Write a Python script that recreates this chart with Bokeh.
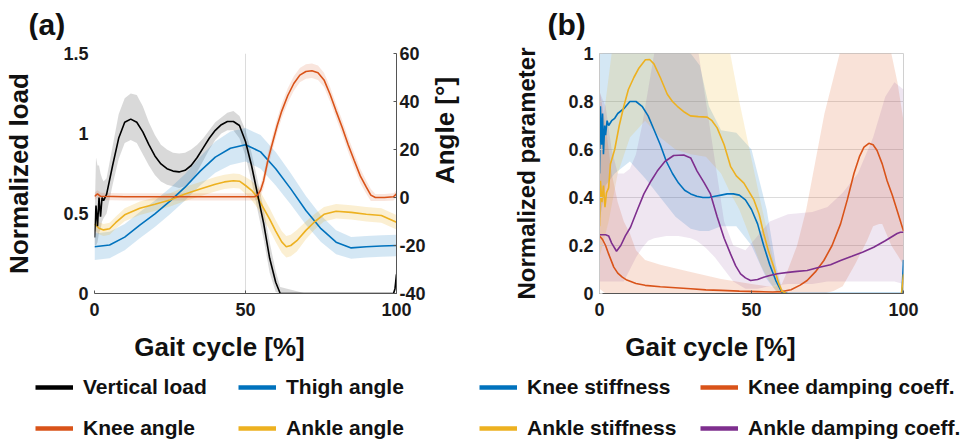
import math
from bokeh.plotting import figure
from bokeh.models import (Range1d, LinearAxis, FixedTicker, Legend, LegendItem, Label,
                          NumeralTickFormatter)
from bokeh.layouts import row, column
from bokeh.embed import file_html
from bokeh.resources import INLINE

FONT = "Liberation Sans"
BLACK = "#000000"
BLUE = "#0072BD"
RED = "#D95319"
YEL = "#EDB120"
PUR = "#7E2F8E"

# ---------------- Panel (a) data ----------------
load_x = [0, 0.5, 1, 1.5, 2, 2.5, 3, 4, 6, 8, 10, 12, 14, 16, 18, 20, 22, 24, 26, 28, 30, 32, 34, 36,
          38, 40, 42, 44, 46, 48, 50, 52, 54, 56, 58, 60, 61.5, 70, 80, 90, 99, 99.5, 100]
load_mean = [0.35, 0.55, 0.42, 0.6, 0.48, 0.6, 0.58, 0.62, 0.8, 0.97, 1.07, 1.09, 1.07, 1.01, 0.93, 0.86,
             0.81, 0.78, 0.765, 0.76, 0.77, 0.8, 0.85, 0.91, 0.97, 1.02, 1.055, 1.075, 1.075, 1.05, 0.95,
             0.8, 0.62, 0.44, 0.22, 0.07, 0.0, 0.0, 0.0, 0.0, 0.0, 0.03, 0.12]
load_upper = [0.45, 0.85, 0.8, 0.8, 0.75, 0.72, 0.7, 0.72, 0.92, 1.12, 1.22, 1.25, 1.24, 1.17, 1.07, 0.99,
              0.93, 0.9, 0.88, 0.875, 0.88, 0.9, 0.93, 0.97, 1.02, 1.07, 1.1, 1.13, 1.14, 1.11, 1.02,
              0.88, 0.71, 0.53, 0.32, 0.14, 0.04, 0.0, 0.0, 0.0, 0.0, 0.05, 0.2]
load_lower = [0.3, 0.3, 0.32, 0.38, 0.4, 0.45, 0.47, 0.5, 0.68, 0.84, 0.94, 0.96, 0.94, 0.87, 0.8, 0.74,
              0.7, 0.68, 0.67, 0.66, 0.67, 0.7, 0.76, 0.83, 0.9, 0.96, 1.0, 1.02, 1.02, 0.97, 0.86,
              0.7, 0.52, 0.34, 0.13, 0.01, 0.0, 0.0, 0.0, 0.0, 0.0, 0.0, 0.05]

thigh_x = [0, 5, 10, 15, 20, 25, 30, 35, 40, 45, 50, 55, 60, 65, 70, 75, 80, 85, 90, 95, 100]
thigh_mean = [-20.5, -19.8, -16.5, -11.5, -6.8, -1.5, 4.3, 11, 16.8, 20.5, 22, 19, 12, 3.6, -5.4, -13,
              -18.6, -21, -20.5, -20.2, -20]
thigh_upper = [-15, -14.3, -11, -6, -1.3, 4, 9.8, 17, 23.3, 27.5, 29, 26, 19, 10.1, 0.6, -7.5, -13.6,
               -16.5, -16, -15.7, -15.5]
thigh_lower = [-26, -25.3, -22, -17, -12.3, -7, -1.2, 5, 10.3, 13.5, 15, 12, 5, -2.9, -11.4, -18.5,
               -23.6, -25.5, -25, -24.7, -24.5]

ankle_x = [0, 1.5, 3, 5, 7, 10, 15, 20, 25, 30, 35, 40, 43, 46, 48, 50, 52, 54, 56, 58, 60, 62, 63.5,
           65, 67, 70, 73, 76, 80, 85, 90, 95, 100]
ankle_mean = [-11, -12.8, -13.5, -13, -10.5, -7.2, -4.5, -2.8, -1, 1.5, 3.5, 5.5, 6.5, 7, 6.8, 5, 3, 0,
              -4.5, -9, -14, -18.5, -20.5, -20, -18, -13.7, -10, -7, -5.7, -6.2, -7, -7.5, -10.3]
ankle_upper = [-8.5, -10.3, -11, -10.5, -8, -4.5, -1.7, 0, 1.8, 4.5, 6.5, 8.5, 9.5, 10, 9.8, 8.5, 7, 4.5,
               0, -4.5, -9.5, -14, -16, -15.5, -13.5, -10, -6.8, -4, -2.7, -3.2, -4, -4.5, -7.3]
ankle_lower = [-13.5, -15.3, -16, -15.5, -13, -9.9, -7.3, -5.6, -3.8, -1.5, 0.5, 2.5, 3.5, 4, 3.8, 1.5,
               -1, -4.5, -9, -13.5, -18.5, -23, -25, -24.5, -22.5, -17.4, -13.2, -10, -8.7, -9.2, -10,
               -10.5, -13.3]

knee_x = [0, 1, 2, 10, 20, 30, 40, 50, 53, 54, 55, 56, 57.5, 59, 60.5, 62, 64, 66, 68, 70, 72, 74, 76,
          78, 80, 82, 84, 86, 88, 90, 91.5, 93, 96, 99, 100]
knee_mean = [0.5, 1.5, 0.5, 0.3, 0.3, 0.3, 0.3, 0.3, 0.3, 1, 3, 7, 16, 23, 30, 36, 42.5, 47.5, 51, 52.5,
             52.8, 52, 49, 43, 36, 29.3, 22, 15.4, 9, 4.3, 1, 0, 0, 0.3, 1.5]
knee_upper = [2, 3, 2, 1.8, 1.8, 1.8, 1.8, 1.8, 1.8, 3, 5.5, 10, 19, 26, 33, 39, 45.5, 50.5, 54, 55.5,
              55.8, 55, 52, 46, 39, 32.3, 25, 18.4, 12, 7, 3.5, 1.5, 1.5, 1.8, 3]
knee_lower = [-1, 0, -1, -1.2, -1.2, -1.2, -1.2, -1.2, -1.2, -1, 0.5, 4, 13, 20, 27, 33, 39.5, 44.5, 48,
              49.5, 49.8, 49, 46, 40, 33, 26.3, 19, 12.4, 6, 1.6, -1.5, -1.5, -1.5, -1.2, 0]

# ---------------- Panel (b) data ----------------
ks_x = [0, 0.3, 0.7, 1, 1.3, 1.7, 2, 2.5, 3, 4, 5, 6, 8, 10, 12, 14, 16, 18, 20, 22, 24, 26, 28, 30, 32,
        34, 36, 38, 40, 42, 44, 46, 48, 50, 52, 54, 56, 58, 60, 62, 99.5, 100]
ks_mean = [0.5, 0.78, 0.62, 0.75, 0.58, 0.7, 0.66, 0.72, 0.7, 0.72, 0.73, 0.75, 0.77, 0.8, 0.8, 0.78,
           0.74, 0.68, 0.62, 0.55, 0.5, 0.46, 0.43, 0.415, 0.405, 0.40, 0.40, 0.405, 0.41, 0.415, 0.415,
           0.41, 0.39, 0.35, 0.29, 0.2, 0.12, 0.054, 0.005, 0, 0, 0.14]
ks_band_x = [0, 2, 5, 10, 15, 20, 25, 30, 33, 36, 40, 45, 50, 55, 58, 60, 62, 100]
ks_upper = [1.2, 1.2, 1.15, 1.1, 1.1, 1.05, 1.02, 1.0, 0.95, 0.78, 0.68, 0.67, 0.6, 0.35, 0.12, 0.02, 0, 0]
ks_lower = [0.3, 0.45, 0.5, 0.55, 0.48, 0.4, 0.32, 0.27, 0.26, 0.26, 0.28, 0.28, 0.2, 0.06, 0.01, 0, 0, 0]

as_x = [0, 0.3, 0.8, 1.3, 1.8, 2.3, 3, 3.6, 5, 6.5, 8, 9.5, 11.3, 13, 15.1, 16.5, 17.9, 20, 22.3, 24,
        25.6, 28, 29.9, 32.5, 35.4, 37, 38.7, 41, 43.1, 45, 47.5, 50.8, 52.5, 54, 55.5, 57.3, 59, 60, 62,
        99.3, 100]
as_mean = [0.28, 0.47, 0.38, 0.45, 0.36, 0.42, 0.44, 0.54, 0.6, 0.7, 0.78, 0.85, 0.9, 0.94, 0.974,
           0.975, 0.957, 0.9, 0.83, 0.8, 0.78, 0.755, 0.74, 0.737, 0.735, 0.72, 0.69, 0.62, 0.53, 0.49,
           0.46, 0.39, 0.33, 0.25, 0.18, 0.11, 0.04, 0.01, -0.004, -0.004, 0.08]
as_band_x = [0, 3, 6, 10, 15, 20, 25, 30, 35, 40, 43, 46, 50, 53, 55, 57, 59, 60, 62, 100]
as_upper = [0.6, 0.9, 1.2, 1.3, 1.3, 1.3, 1.3, 1.3, 1.3, 1.2, 1.0, 0.8, 0.56, 0.38, 0.27, 0.15, 0.05,
            0.02, 0, 0]
as_lower = [0.15, 0.3, 0.5, 0.65, 0.72, 0.65, 0.6, 0.58, 0.57, 0.5, 0.42, 0.35, 0.22, 0.12, 0.07, 0.03,
            0, 0, 0, 0]

kd_x = [0, 1, 2, 3, 4.7, 6, 7.5, 9, 12, 15, 20, 25, 30, 35, 40, 46, 52, 57, 60, 63, 66, 68.3, 71, 73.8,
        76.5, 79.3, 81.5, 83.7, 85.5, 87, 88.6, 90, 91.3, 93, 94.6, 96.3, 97.9, 100]
kd_mean = [0.24, 0.225, 0.2, 0.165, 0.11, 0.085, 0.068, 0.056, 0.042, 0.034, 0.028, 0.024, 0.02, 0.015,
           0.013, 0.01, 0.008, 0.006, 0.008, 0.016, 0.035, 0.054, 0.09, 0.1375, 0.2, 0.29, 0.39, 0.5,
           0.57, 0.61, 0.626, 0.62, 0.596, 0.54, 0.47, 0.41, 0.346, 0.26]
kd_band_x = [0, 2, 4, 6, 8, 10, 12, 15, 20, 30, 40, 50, 55, 58, 60, 62, 65, 68, 71, 74, 77, 80, 84, 86,
             88, 90, 92, 93, 96, 98, 100]
kd_upper = [0.85, 0.7, 0.5, 0.38, 0.3, 0.25, 0.18, 0.14, 0.12, 0.09, 0.06, 0.04, 0.03, 0.03, 0.04, 0.1,
            0.2, 0.35, 0.55, 0.75, 0.9, 1.05, 1.3, 1.35, 1.4, 1.4, 1.3, 1.25, 1.0, 0.88, 0.72]
kd_lower = [0.02, 0.0, 0.0, 0.0, 0.0, 0.0, 0.0, 0.0, 0.0, 0.0, 0.0, 0.0, 0.0, 0.0, 0.0, 0.0, 0.0, 0.0,
            0.0, 0.0, 0.01, 0.03, 0.12, 0.17, 0.22, 0.28, 0.29, 0.29, 0.2, 0.16, 0.12]

ad_x = [0, 1, 2, 3, 4, 5.6, 7, 8.5, 10.2, 12.5, 14.6, 17, 19, 21.5, 24.4, 27.7, 30, 32.1, 34.5, 36.5,
        38.7, 41, 43.1, 44.8, 46.4, 48, 49.7, 52, 54, 56, 58.5, 62, 65, 68.3, 72, 76, 79.3, 83, 86.5,
        90.2, 94, 97.9, 99, 100]
ad_mean = [0.245, 0.245, 0.245, 0.24, 0.21, 0.176, 0.2, 0.24, 0.276, 0.35, 0.415, 0.47, 0.51, 0.55,
           0.575, 0.577, 0.565, 0.51, 0.46, 0.415, 0.32, 0.23, 0.165, 0.115, 0.082, 0.065, 0.054, 0.058,
           0.068, 0.075, 0.082, 0.088, 0.092, 0.096, 0.108, 0.12, 0.1375, 0.155, 0.172, 0.193, 0.22,
           0.25, 0.255, 0.255]
ad_band_x = [0, 2, 4, 6, 8, 10, 12, 14, 16, 18, 22, 26, 30, 32, 35, 38, 41, 44, 48, 52, 56, 62, 70, 75,
             80, 85, 90, 94, 97, 100]
ad_upper = [0.84, 0.78, 0.6, 0.5, 0.5, 0.52, 0.58, 0.7, 0.85, 1.0, 1.15, 1.2, 1.15, 1.05, 0.8, 0.55,
            0.3, 0.2, 0.18, 0.24, 0.3, 0.33, 0.34, 0.36, 0.42, 0.5, 0.65, 0.82, 0.88, 0.85]
ad_lower = [0.05, 0.05, 0.05, 0.05, 0.05, 0.1, 0.15, 0.19, 0.22, 0.23, 0.24, 0.24, 0.23, 0.22, 0.19,
            0.15, 0.1, 0.05, 0.02, 0.02, 0.03, 0.04, 0.04, 0.05, 0.05, 0.05, 0.05, 0.05, 0.05, 0.04]

x_ticks = [0, 50, 100]
load_ticks = [0, 0.5, 1, 1.5]
angle_ticks = [-40, -20, 0, 20, 40, 60]
param_ticks = [0, 0.2, 0.4, 0.6, 0.8, 1]

legend_a = ["Vertical load", "Thigh angle", "Knee angle", "Ankle angle"]
legend_b = ["Knee stiffness", "Knee damping coeff.", "Ankle stiffness", "Ankle damping coeff."]


def style_axis(ax, ticks, line_color, fmt=None):
    ax.ticker = FixedTicker(ticks=ticks)
    if fmt is not None:
        ax.formatter = NumeralTickFormatter(format=fmt)
    ax.major_label_text_font = FONT
    ax.major_label_text_font_style = "bold"
    ax.major_label_text_font_size = "18px"
    ax.major_label_text_color = "#1a1a1a"
    ax.axis_line_color = line_color
    ax.major_tick_line_color = line_color
    ax.major_tick_in = 3
    ax.major_tick_out = 0
    ax.minor_tick_line_color = None
    ax.axis_label_text_font = FONT
    ax.axis_label_text_font_style = "bold"
    ax.axis_label_text_font_size = "26px"
    ax.axis_label_text_color = "#111111"


def blank(width, height, x0=1000):
    # x range lies far outside the data: only annotations show in these helper panels
    q = figure(width=width, height=height, x_range=Range1d(x0, x0 + 1), y_range=Range1d(0, 1),
               x_axis_location=None, y_axis_location=None, output_backend="svg",
               toolbar_location=None, min_border=0, min_border_left=0, min_border_right=0,
               min_border_top=0, min_border_bottom=0)
    q.outline_line_color = None
    q.grid.visible = False
    return q


def text_label(q, x, y, text, size, align="left", angle=0.0):
    q.add_layout(Label(x=x, y=y, x_units="screen", y_units="screen", text=text, angle=angle,
                       text_align=align, text_baseline="middle", text_font=FONT,
                       text_font_style="bold", text_font_size=size, text_color="#111111"))


def bottom_panel(width, series, names, colors, loc, label_width, label_x):
    q = blank(width, 115)
    items = []
    for (sx, sy), name, col in zip(series, names, colors):
        r = q.line(x=sx, y=sy, line_color=col, line_width=4.5)
        items.append(LegendItem(label=name, renderers=[r]))
    leg = Legend(items=items, location=loc, orientation="horizontal", ncols=2,
                 glyph_width=38, glyph_height=24, label_height=24, label_width=label_width,
                 label_standoff=10, spacing=17, padding=0, margin=0,
                 border_line_alpha=0, background_fill_alpha=0,
                 label_text_font=FONT, label_text_font_style="bold",
                 label_text_font_size="21px", label_text_color="#111111")
    q.add_layout(leg)
    text_label(q, label_x, 99, "Gait cycle [%]", "26px", "center")
    return q


# ---------------- Top strip: panel letters ----------------
ta = blank(470, 40)
text_label(ta, 28, 16, "(a)", "30px")
tb = blank(510, 40)
text_label(tb, 547 - 470, 16, "(b)", "30px")

# ---------------- Panel (a) ----------------
pa = figure(width=428, height=290, x_range=Range1d(0, 100), y_range=Range1d(0, 1.5),
            output_backend="svg", toolbar_location=None,
            min_border_left=94, min_border_right=30, min_border_top=13, min_border_bottom=37)
pa.extra_y_ranges = {"ang": Range1d(-40, 60)}
pa.outline_line_color = None
pa.xgrid.ticker = FixedTicker(ticks=[50])
pa.xgrid.grid_line_color = "#dcdcdc"
pa.ygrid.grid_line_color = None

pa.varea(x=load_x, y1=load_lower, y2=load_upper, fill_color="#808080", fill_alpha=0.3)
pa.varea(x=thigh_x, y1=thigh_lower, y2=thigh_upper, fill_color=BLUE, fill_alpha=0.17, y_range_name="ang")
pa.varea(x=ankle_x, y1=ankle_lower, y2=ankle_upper, fill_color=YEL, fill_alpha=0.2, y_range_name="ang")
pa.varea(x=knee_x, y1=knee_lower, y2=knee_upper, fill_color=RED, fill_alpha=0.15, y_range_name="ang")

pa.line(x=thigh_x, y=thigh_mean, line_color=BLUE, line_width=1.6, y_range_name="ang")
pa.line(x=ankle_x, y=ankle_mean, line_color=YEL, line_width=1.6, y_range_name="ang")
pa.line(x=load_x, y=load_mean, line_color=BLACK, line_width=1.6)
pa.line(x=knee_x, y=knee_mean, line_color=RED, line_width=1.6, y_range_name="ang")

style_axis(pa.xaxis[0], x_ticks, "#555555")
pa.xaxis[0].major_label_standoff = 9
style_axis(pa.yaxis[0], load_ticks, None, "0.[0]")
pa.yaxis[0].major_label_standoff = 6
pa.yaxis[0].axis_label = "Normalized load"
pa.yaxis[0].axis_label_standoff = 26

ax_r = LinearAxis(y_range_name="ang")
style_axis(ax_r, angle_ticks, "#555555", "0")
ax_r.major_label_standoff = 3
pa.add_layout(ax_r, "right")

# right-hand axis title of panel (a), drawn in a narrow strip next to it
pr = blank(42, 290)
text_label(pr, 16, 290 - 127, "Angle [°]", "26px", "center", math.pi / 2)

# ---------------- Panel (b) ----------------
pb = figure(width=510, height=290, x_range=Range1d(0, 100), y_range=Range1d(0, 1),
            output_backend="svg", toolbar_location=None,
            min_border_left=129, min_border_right=77, min_border_top=13, min_border_bottom=37)
pb.outline_line_color = "#d0d0d0"
pb.xgrid.grid_line_color = None
pb.ygrid.ticker = FixedTicker(ticks=[0.2, 0.4, 0.6, 0.8, 1.0])
pb.ygrid.grid_line_color = "#dcdcdc"

pb.varea(x=ks_band_x, y1=ks_lower, y2=ks_upper, fill_color=BLUE, fill_alpha=0.17)
pb.varea(x=kd_band_x, y1=kd_lower, y2=kd_upper, fill_color=RED, fill_alpha=0.17)
pb.varea(x=as_band_x, y1=as_lower, y2=as_upper, fill_color=YEL, fill_alpha=0.17)
pb.varea(x=ad_band_x, y1=ad_lower, y2=ad_upper, fill_color=PUR, fill_alpha=0.12)

pb.line(x=ks_x, y=ks_mean, line_color=BLUE, line_width=1.6)
pb.line(x=kd_x, y=kd_mean, line_color=RED, line_width=1.6)
pb.line(x=as_x, y=as_mean, line_color=YEL, line_width=1.6)
pb.line(x=ad_x, y=ad_mean, line_color=PUR, line_width=1.6)

style_axis(pb.xaxis[0], x_ticks, "#555555")
pb.xaxis[0].major_label_standoff = 9
style_axis(pb.yaxis[0], param_ticks, "#c8c8c8", "0.[0]")
pb.yaxis[0].major_label_standoff = 6
pb.yaxis[0].axis_label = "Normalized parameter"
pb.yaxis[0].axis_label_text_font_size = "24px"
pb.yaxis[0].axis_label_standoff = 25

# ---------------- Bottom: x titles and legends ----------------
series_a = [(load_x, load_mean), (thigh_x, thigh_mean), (knee_x, knee_mean), (ankle_x, ankle_mean)]
series_b = [(ks_x, ks_mean), (kd_x, kd_mean), (as_x, as_mean), (ad_x, ad_mean)]
la = bottom_panel(470, series_a, legend_a, [BLACK, BLUE, RED, YEL], (35, 5), 138, 219)
lb = bottom_panel(510, series_b, legend_b, [BLUE, RED, YEL, PUR], (9, 5), 156, 710 - 470)

layout = column(row(ta, tb), row(pa, pr, pb), row(la, lb))
open("out.html", "w").write(file_html(layout, INLINE))
